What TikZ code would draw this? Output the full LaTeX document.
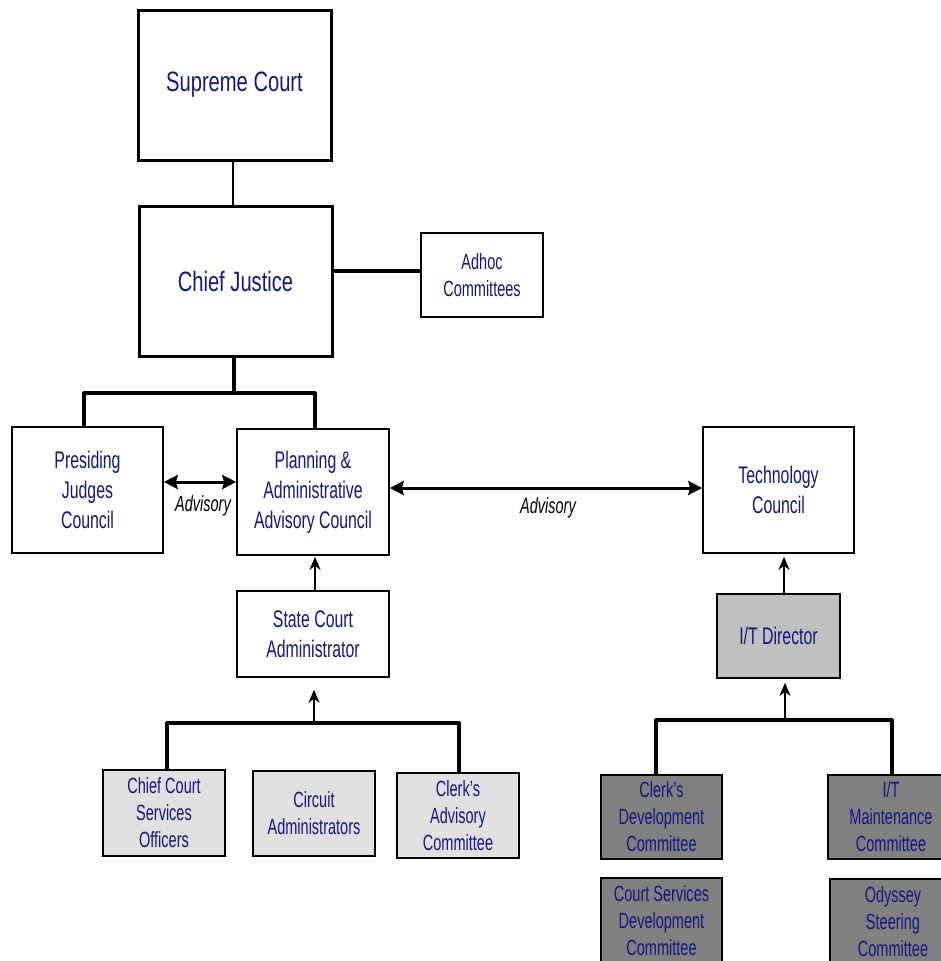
\documentclass[tikz,border=0pt]{standalone}
\usepackage{fontspec}
\setmainfont{Liberation Sans}[FakeStretch=0.66]
\newfontfamily\bigfam{Liberation Sans}[FakeStretch=0.72]
\usetikzlibrary{arrows.meta}
\definecolor{navy}{RGB}{22,22,128}
\definecolor{lg}{RGB}{224,224,224}
\definecolor{mg}{RGB}{192,192,192}
\definecolor{dg}{RGB}{128,128,128}
\tikzset{
  box/.style={draw=black, line width=1.6pt, fill=white, align=center, text=navy, inner sep=1pt,
    font=\fontsize{22}{27}\selectfont},
  bigbox/.style={box, line width=3pt, font=\bigfam\fontsize{28}{32}\selectfont},
  midbox/.style={box, font=\fontsize{24}{30}\selectfont},
  conn/.style={line width=2.2pt},
  thickconn/.style={line width=3.2pt},
  tree/.style={line width=3.2pt, line join=round},
  arr/.style={line width=2.4pt, -{Stealth[length=13pt,width=11pt,inset=4pt]}},
  dbl/.style={line width=3pt, {Stealth[length=14pt,width=14pt,inset=2pt]}-{Stealth[length=14pt,width=14pt,inset=2pt]}},
  adv/.style={font=\fontsize{22}{24}\selectfont\itshape, text=black, inner sep=1pt},
}
\begin{document}
\begin{tikzpicture}[x=1pt,y=-1pt]
\useasboundingbox (0,0) rectangle (941,961);
\clip (0,0) rectangle (941,961);
% top
\node[bigbox, minimum width=193, minimum height=150] (sc) at (234.5,85) {Supreme Court};
\node[bigbox, minimum width=193, minimum height=150] (cj) at (235.5,281) {Chief Justice};
\node[box, minimum width=122, minimum height=84] (adhoc) at (482,275) {Adhoc\\Committees};
% second level
\node[midbox, minimum width=151, minimum height=126] (pj) at (87.5,490) {Presiding\\Judges\\Council};
\node[midbox, minimum width=152, minimum height=126] (pa) at (313,492) {Planning \&\\Administrative\\Advisory Council};
\node[midbox, minimum width=151, minimum height=126] (tc) at (778.5,490) {Technology\\Council};
\node[midbox, minimum width=152, minimum height=86] (sca) at (313,634) {State Court\\Administrator};
\node[midbox, fill=mg, minimum width=123, minimum height=84] (itd) at (778.5,636) {I/T Director};
% bottom left
\node[box, fill=lg, minimum width=122, minimum height=86] (ccs) at (164,813) {Chief Court\\Services\\Officers};
\node[box, fill=lg, minimum width=122, minimum height=85] (cad) at (314,813.5) {Circuit\\Administrators};
\node[box, fill=lg, minimum width=122, minimum height=85] (cac) at (458,815.5) {Clerk's\\Advisory\\Committee};
% bottom right
\node[box, fill=dg, minimum width=121, minimum height=84] (cdc) at (661.5,817) {Clerk's\\Development\\Committee};
\node[box, fill=dg, minimum width=126, minimum height=84] (itm) at (891,817) {I/T\\Maintenance\\Committee};
\node[box, fill=dg, minimum width=121, minimum height=86] (csd) at (661.5,921) {Court Services\\Development\\Committee};
\node[box, fill=dg, minimum width=126, minimum height=86] (osc) at (893,922) {Odyssey\\Steering\\Committee};
% connectors
\coordinate (j0) at (233,0);
\draw[conn] (sc.south -| j0) -- (cj.north -| j0);
\draw[thickconn] (cj.east |- 0,271) -- (adhoc.west |- 0,271);
\coordinate (j1) at (234,393);
\draw[tree] (cj.south -| j1) -- (j1);
\draw[tree] (pj.north -| 84,0) |- (j1) -| (pa.north -| 315,0);
\draw[dbl] (pj.east |- 0,482) -- (pa.west |- 0,482);
\node[adv] (adv1) at (203,506) {Advisory};
\draw[dbl] (pa.east |- 0,488) -- (tc.west |- 0,488);
\node[adv] (adv2) at (548,508) {Advisory};
\draw[arr, shorten >=1pt] (sca.north -| 315,0) -- (pa.south -| 315,0);
\coordinate (t1) at (314,723);
\draw[tree] (ccs.north -| 167,0) |- (t1) -| (cac.north -| 459,0);
\draw[arr, shorten >=12pt] (t1) -- (sca.south -| t1);
\draw[arr, shorten >=3pt] (itd.north -| 784,0) -- (tc.south -| 784,0);
\coordinate (t2) at (785,720);
\draw[tree] (cdc.north -| 656,0) |- (t2) -| (itm.north -| 892,0);
\draw[arr, shorten >=4pt] (t2) -- (itd.south -| t2);
\end{tikzpicture}
\end{document}
